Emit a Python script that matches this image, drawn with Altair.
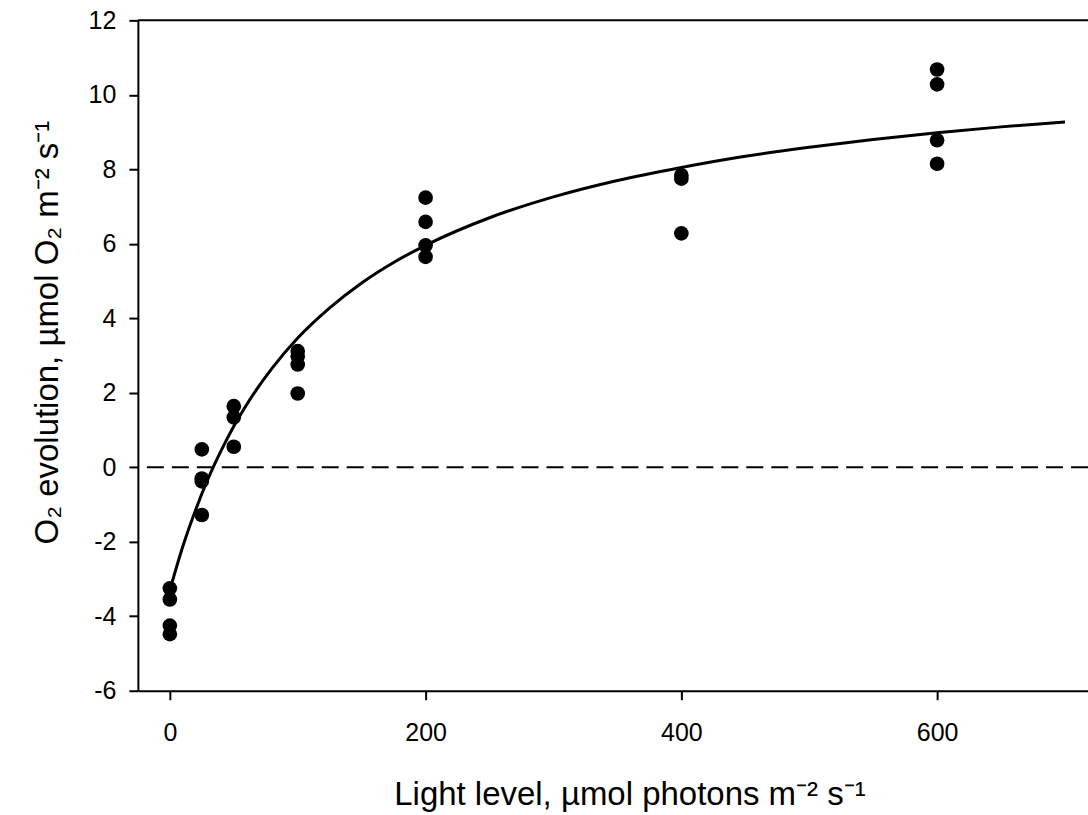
import altair as alt
import pandas as pd

# Measured data (light level in umol photons m-2 s-1, O2 evolution)
light_0 = [0, 0, 0, 0]
o2_0 = [-3.25, -3.55, -4.25, -4.48]
light_25 = [25, 25, 25, 25]
o2_25 = [0.48, -0.30, -0.38, -1.28]
light_50 = [50, 50, 50]
o2_50 = [1.64, 1.34, 0.55]
light_100 = [100, 100, 100, 100]
o2_100 = [3.12, 2.98, 2.76, 1.98]
light_200 = [200, 200, 200, 200]
o2_200 = [7.24, 6.59, 5.96, 5.65]
light_400 = [400, 400, 400]
o2_400 = [7.84, 7.75, 6.28]
light_600 = [600, 600, 600, 600]
o2_600 = [10.68, 10.28, 8.78, 8.15]

# Fitted curve
fit_light = [0, 10, 20, 30, 40, 50, 60, 80, 100, 125, 150, 175, 200, 250, 300,
             350, 400, 450, 500, 550, 600, 650, 700]
fit_o2 = [-3.30, -2.14, -1.16, -0.30, 0.44, 1.10, 1.68, 2.66, 3.47, 4.28, 4.95,
          5.50, 5.96, 6.70, 7.26, 7.70, 8.05, 8.35, 8.59, 8.80, 8.98, 9.14, 9.27]

x_ticks = [0, 200, 400, 600]
y_ticks = [-6, -4, -2, 0, 2, 4, 6, 8, 10, 12]

pts = pd.DataFrame({
    "light": light_0 + light_25 + light_50 + light_100 + light_200 + light_400 + light_600,
    "o2": o2_0 + o2_25 + o2_50 + o2_100 + o2_200 + o2_400 + o2_600,
})
fit = pd.DataFrame({"light": fit_light, "o2": fit_o2})

FONT = "Liberation Sans"

xscale = alt.Scale(domain=[-25, 718], nice=False, zero=False)
yscale = alt.Scale(domain=[-6, 12], nice=False, zero=False)

xaxis = alt.Axis(
    values=x_ticks, title="Light level, µmol photons m⁻² s⁻¹",
    titleX=492, titleY=114, titleAlign="center", titleBaseline="alphabetic",
    labelPadding=21, labelExpr="'' + datum.value",
)
yaxis = alt.Axis(
    values=y_ticks, title="O₂ evolution, µmol O₂ m⁻² s⁻¹",
    titleX=-80, titleY=312, titleAlign="center", titleBaseline="alphabetic",
    titleAngle=-90, labelPadding=13, labelExpr="'' + datum.value",
)

points = alt.Chart(pts).mark_circle(size=215, color="black", opacity=1).encode(
    x=alt.X("light:Q", scale=xscale, axis=xaxis),
    y=alt.Y("o2:Q", scale=yscale, axis=yaxis),
)

curve = alt.Chart(fit).mark_line(color="black", strokeWidth=3, interpolate="monotone").encode(
    x=alt.X("light:Q", scale=xscale),
    y=alt.Y("o2:Q", scale=yscale),
)

zero_line = alt.Chart(pd.DataFrame({"v": [0]})).mark_rule(
    color="black", strokeWidth=2, strokeDash=[17, 8]
).encode(y=alt.Y("v:Q", scale=yscale))

top_line = alt.Chart(pd.DataFrame({"v": [12]})).mark_rule(
    color="black", strokeWidth=2
).encode(y=alt.Y("v:Q", scale=yscale))

chart = alt.layer(zero_line, top_line, curve, points).properties(
    width=951, height=671,
    autosize=alt.AutoSizeParams(type="none"),
    padding={"left": 138, "top": 20, "right": 0, "bottom": 124},
    background="white",
).configure_view(stroke=None).configure_axis(
    grid=False,
    domainColor="black", domainWidth=2,
    tickColor="black", tickWidth=2, tickSize=9,
    labelFont=FONT, labelFontSize=25, labelColor="black",
    titleFont=FONT, titleFontSize=33, titleFontWeight="normal", titleColor="black",
)

chart.save("out.html", embed_options={"renderer": "svg", "actions": False})
